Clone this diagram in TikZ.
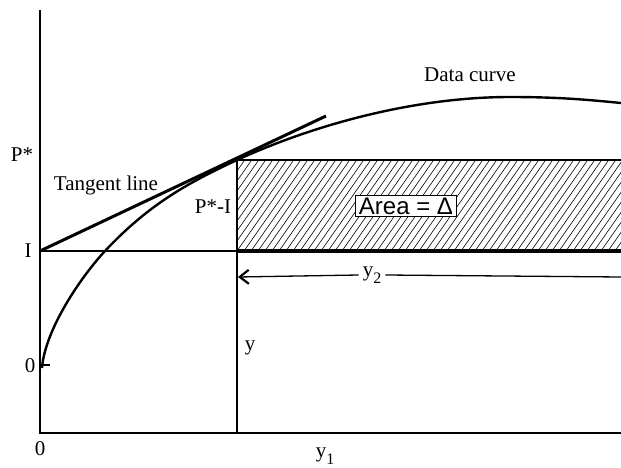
\documentclass[tikz,border=0pt]{standalone}
\usepackage{fontspec}
\setmainfont{Liberation Serif}
\setsansfont{Liberation Sans}
\usetikzlibrary{arrows.meta}
\tikzset{
  lbl/.style={inner sep=0pt, font=\fontsize{21}{24}\selectfont},
  axis/.style={line width=2pt},
  thinline/.style={line width=1.5pt},
  areabox/.style={draw, fill=white, line width=1pt, inner xsep=3pt, inner ysep=2pt, font=\sffamily\fontsize{24}{26}\selectfont}
}
\begin{document}
\begin{tikzpicture}[x=1pt,y=-1pt]
\useasboundingbox (0,0) rectangle (621,468);
% key coordinates
\coordinate (O) at (40,433);
\coordinate (top) at (40,10);
\coordinate (xend) at (621,433);
\coordinate (Iy) at (40,251);
\coordinate (Iend) at (621,251);
\coordinate (T) at (237,160);
\coordinate (Tb) at (237,251);
\coordinate (Tx) at (237,433);
\coordinate (Rt) at (621,160);
\coordinate (tanend) at (326,116);
\coordinate (tick0) at (50,365);
\coordinate (y0) at (40,365);
\coordinate (arrtip) at (238,277);
\coordinate (arrend) at (621,277);
\coordinate (c0) at (42,368);
\coordinate (c1) at (105,251);
\coordinate (c3) at (510,97);
\coordinate (c4) at (621,103);
% hatching
\begin{scope}
\clip (T) rectangle (Iend);
\foreach \i in {0,7,...,560} {
  \draw[line width=0.6pt] (237+\i-70,251) -- (237+\i,151);
}
\end{scope}
% axes
\draw[axis] (top) -- (O) -- (xend);
\draw[thinline] (Iy) -- (Iend);
\draw[line width=4pt] (Tb) -- (Iend);
\draw[line width=2.6pt] (T) -- (Rt);
\draw[line width=2pt] (T) -- (Tx);
\draw[line width=2pt] (y0) -- (tick0);
% tangent line
\draw[line width=3pt] (Iy) -- (tanend);
% data curve
\draw[line width=2.4pt] (c0) .. controls (45,330) and (80,278) .. (c1)
  .. controls (150,203) and (190,182) .. (T)
  .. controls (320,122) and (420,97) .. (c3)
  .. controls (560,97) and (590,100) .. (c4);
% labels
\node[lbl] (Pstar) at (22,155) {P*};
\node[lbl] (Ilbl) at (28,251) {I};
\node[lbl] (zero) at (30,366) {0};
\node[lbl] (zerox) at (40,449) {0};
\node[lbl] (tang) at (106,185) {Tangent line};
\node[lbl] (data) at (470,75) {Data curve};
\node[lbl] (pmi) at (213,207) {P*-I};
\node[lbl] (ylbl) at (250,348) {y};
\node[lbl] (y1) at (325,456) {y\raisebox{-0.35em}{\fontsize{16}{16}\selectfont 1}};
\node[lbl, inner xsep=4pt] (y2) at (372,275) {y\raisebox{-0.35em}{\fontsize{16}{16}\selectfont 2}};
\node[areabox] (area) at (406,206) {Area = Δ};
% y2 arrow
\draw[line width=1.3pt, -{Straight Barb[length=9pt,width=14pt,line width=2.2pt]}] (y2.west) -- (arrtip);
\draw[line width=1.3pt] (y2.east) -- (arrend);
\end{tikzpicture}
\end{document}
